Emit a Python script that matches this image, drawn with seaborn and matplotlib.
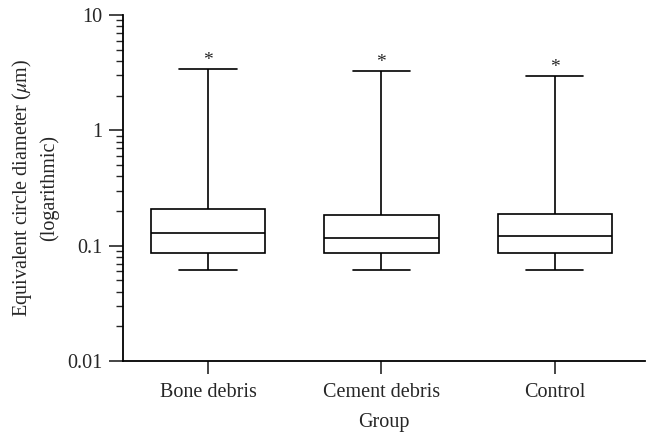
import numpy as np
import pandas as pd
import matplotlib.pyplot as plt
import matplotlib.ticker as mticker
import seaborn as sns

# five-number summaries (um): min, Q1, median, Q3, max
groups = ["Bone debris", "Cement debris", "Control"]
bone = [0.061, 0.0865, 0.128, 0.206, 3.39]
cement = [0.061, 0.086, 0.116, 0.186, 3.28]
control = [0.061, 0.086, 0.122, 0.19, 2.97]
ytick_vals = [0.01, 0.1, 1, 10]
ytick_labels = ["0.01", "0.1", "1", "10"]

df = pd.DataFrame({
    "Group": np.repeat(groups, 5),
    "value": bone + cement + control,
})

sns.set_style("ticks")
plt.rcParams["font.family"] = ["Liberation Serif", "DejaVu Serif"]
plt.rcParams["mathtext.fontset"] = "stix"

fs = 14.5

fig = plt.figure(figsize=(6.47, 4.34), dpi=100)
ax = fig.add_axes([123 / 647, 1 - 361 / 434, (645 - 123) / 647, (361 - 15) / 434])

sns.boxplot(data=df, x="Group", y="value", whis=(0, 100), width=0.66,
            color="white", linecolor="black", linewidth=1.2, fliersize=0,
            log_scale=True, ax=ax)

# asterisks above the upper whiskers
for i, vals in enumerate([bone, cement, control]):
    ax.annotate("*", (i, vals[4]), xytext=(0, 0), textcoords="offset points",
                ha="center", va="bottom", fontsize=14)

ax.set_ylim(0.01, 10)
ax.set_xlim(-0.49, 2.52)
ax.yaxis.set_major_locator(mticker.FixedLocator(ytick_vals))
ax.yaxis.set_major_formatter(mticker.FixedFormatter(ytick_labels))
ax.yaxis.set_minor_locator(mticker.LogLocator(base=10, subs=np.arange(2, 10)))
ax.yaxis.set_minor_formatter(mticker.NullFormatter())

ax.tick_params(axis="y", which="major", length=10, width=1.2, labelsize=fs, pad=5)
ax.tick_params(axis="y", which="minor", length=5, width=1.0)
ax.tick_params(axis="x", length=9, width=1.2, labelsize=fs, pad=7)

for s in ["top", "right"]:
    ax.spines[s].set_visible(False)
for s in ["left", "bottom"]:
    ax.spines[s].set_linewidth(1.3)
    ax.spines[s].set_color("black")

ax.set_xlabel("Group", fontsize=fs, labelpad=8)
ax.set_ylabel("Equivalent circle diameter ($\\mu$m)\n(logarithmic)", fontsize=fs,
              linespacing=1.35)
ax.yaxis.set_label_coords(-0.122, 0.5)

fig.savefig("out.png", dpi=100)
